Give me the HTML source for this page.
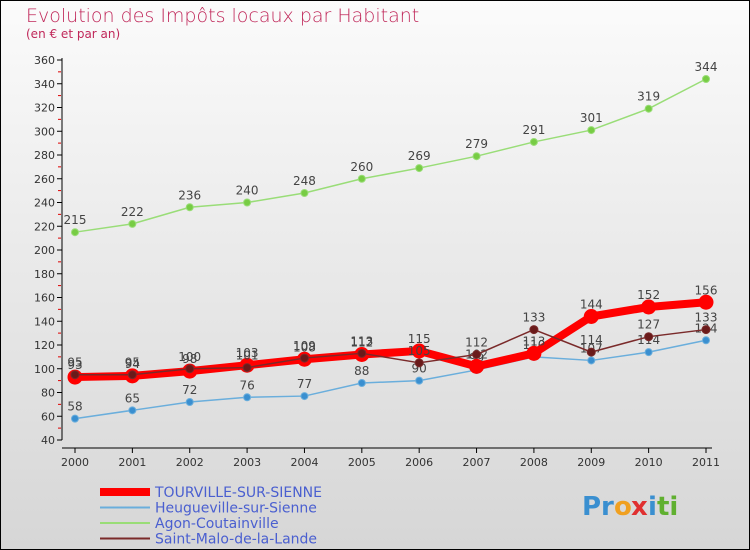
<!DOCTYPE html>
<html><head><meta charset="utf-8"><style>
body{margin:0}
#c{width:750px;height:550px;position:relative;overflow:hidden;font-family:"DejaVu Sans","Liberation Sans",sans-serif;}
</style></head><body>
<div id="c">
<svg id="s" width="750" height="550" xmlns="http://www.w3.org/2000/svg">
<defs><linearGradient id="bg" x1="0" y1="0" x2="0" y2="1"><stop offset="0" stop-color="#fbfbfb"/><stop offset="1" stop-color="#d6d6d6"/></linearGradient></defs>
<rect x="0.5" y="0.5" width="749" height="549" fill="url(#bg)" stroke="#000"/>
<text x="26" y="22" font-size="19" fill="#c0285a" style="font-weight:200">Evolution des Impôts locaux par Habitant</text>
<text x="26" y="38" font-size="12" fill="#c0285a">(en € et par an)</text>
<g id="axes"></g><g id="series"></g><g id="legend"></g>
<g font-size="26" font-weight="bold">
<text x="582" y="515" fill="#3a8fd0">Pr</text><text x="614" y="515" fill="#f0a020">o</text><text x="631" y="515" fill="#e03030">x</text><text x="648" y="515" fill="#3a8fd0">i</text><text x="657" y="515" fill="#60b030">ti</text>
</g>
</svg>
</div>
<script>
const years=["2000","2001","2002","2003","2004","2005","2006","2007","2008","2009","2010","2011"];
const yTicks=[40,60,80,100,120,140,160,180,200,220,240,260,280,300,320,340,360];
const tourville=[93,94,98,103,108,112,115,102,113,144,152,156];
const heugueville=[58,65,72,76,77,88,90,99,110,107,114,124];
const agon=[215,222,236,240,248,260,269,279,291,301,319,344];
const stmalo=[95,95,100,101,109,113,105,112,133,114,127,133];
const seriesNames=["TOURVILLE-SUR-SIENNE","Heugueville-sur-Sienne","Agon-Coutainville","Saint-Malo-de-la-Lande"];
const NS="http://www.w3.org/2000/svg";
const xs=i=>75+i*(706-75)/11;
const ys=v=>440-(v-40)*380/320;
function mk(tag,attrs,parent){const e=document.createElementNS(NS,tag);for(const k in attrs)e.setAttribute(k,attrs[k]);parent.appendChild(e);return e;}
const ax=document.getElementById('axes');
let yl=mk('line',{x1:62,y1:58,x2:62,y2:440,stroke:'#000'},ax);


let xl=mk('line',{x1:62,y1:448,x2:712,y2:448,stroke:'#000'},ax);


yTicks.forEach(v=>{const y=ys(v);
 mk('line',{x1:57,y1:y,x2:62,y2:y,stroke:'#000'},ax);
 if(v<360)mk('line',{x1:58,y1:y-11.9,x2:61,y2:y-11.9,stroke:'#d00'},ax);
 const t=mk('text',{x:55,y:y+4,'font-size':11,'text-anchor':'end',fill:'#333'},ax);t.textContent=v;
 
 });
years.forEach((yr,i)=>{const x=xs(i);
 mk('line',{x1:x,y1:448,x2:x,y2:453,stroke:'#000'},ax);
 const t=mk('text',{x:x,y:466,'font-size':11,'text-anchor':'middle',fill:'#333'},ax);t.textContent=yr;
 
 });
const sg=document.getElementById('series');
function draw(vals,color,w,r,name,dot){
 const g=mk('g',{},sg);
 
 
 mk('polyline',{points:vals.map((v,i)=>xs(i)+','+ys(v)).join(' '),fill:'none',stroke:color,'stroke-width':w,'stroke-linejoin':'round'},g);
 vals.forEach((v,i)=>{const c=mk('circle',{cx:xs(i),cy:ys(v),r:r,fill:dot,stroke:color,'stroke-width':1},g);
  
  
  const t=mk('text',{x:xs(i),y:ys(v)-8,'font-size':12,'text-anchor':'middle',fill:'#444'},g);t.textContent=v;
  
  });
}
draw(agon,'#99dd77',1.5,3.5,'series-agon','#77cc44');
draw(heugueville,'#6aaedc',1.5,3.5,'series-heugueville','#3a8fd0');
draw(tourville,'#ff0000',8,7,'series-tourville','#ff0000');
draw(stmalo,'#7a2a2a',1.5,4,'series-stmalo','#6a1a1a');
const lg=document.getElementById('legend');
const lc=['#ff0000','#6aaedc','#99dd77','#7a2a2a'],lw=[8,2,2,2];
seriesNames.forEach((n,i)=>{const y=492+i*15.5;
 const g=mk('g',{},lg);
 
 
 mk('line',{x1:100,y1:y,x2:150,y2:y,stroke:lc[i],'stroke-width':lw[i]},g);
 const t=mk('text',{x:155,y:y+5,'font-size':14,fill:'#4a5fd0'},g);t.textContent=n;});
</script>
</body></html>
